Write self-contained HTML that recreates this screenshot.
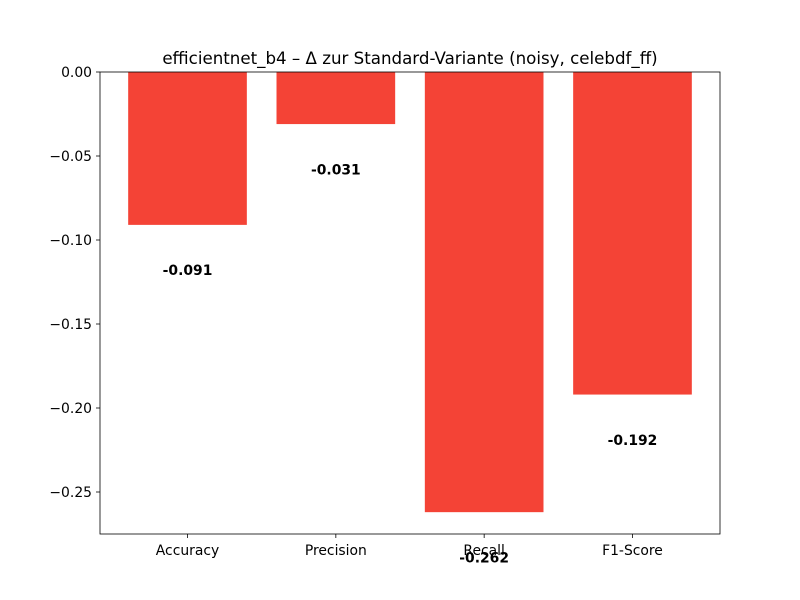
<!DOCTYPE html>
<html><head><meta charset="utf-8"><style>
body{margin:0;background:#fff;}
svg{display:block;font-family:"DejaVu Sans","Liberation Sans",sans-serif;}
</style></head><body>
<svg id="chart" width="800" height="600"></svg>
<script>
const categories = ["Accuracy","Precision","Recall","F1-Score"];
const values = [-0.091,-0.031,-0.262,-0.192];
const labels = ["-0.091","-0.031","-0.262","-0.192"];
const yTicks = [0,-0.05,-0.10,-0.15,-0.20,-0.25];
const yTickLabels = ["0.00","\u22120.05","\u22120.10","\u22120.15","\u22120.20","\u22120.25"];

const svg = document.getElementById('chart');
const NS = 'http://www.w3.org/2000/svg';
const L=100,R=720,T=72,B=534;
const yMin=-0.275,yMax=0;
const xMin=-0.59,xMax=3.59;
const y=v=>T+(yMax-v)/(yMax-yMin)*(B-T);
const x=v=>L+(v-xMin)/(xMax-xMin)*(R-L);
function mk(tag,attrs,text){const e=document.createElementNS(NS,tag);for(const k in attrs)e.setAttribute(k,attrs[k]);if(text!==undefined)e.textContent=text;svg.appendChild(e);return e;}

const title=mk('text',{x:410,y:64,'text-anchor':'middle','font-size':16.67},"efficientnet_b4 \u2013 \u0394 zur Standard-Variante (noisy, celebdf_ff)");



categories.forEach((c,i)=>{
  const x0=x(i-0.4),x1=x(i+0.4);
  const r=mk('rect',{x:x0,y:y(0),width:x1-x0,height:y(values[i])-y(0),fill:'#f44336'});
  
  
  const t=mk('text',{x:x(i),y:y(values[i]-0.027)+5,'text-anchor':'middle','font-size':13.9,'font-weight':'bold'},labels[i]);
  
  
  mk('line',{x1:x(i),x2:x(i),y1:B,y2:B+4,stroke:'#000','stroke-width':0.8});
  const xl=mk('text',{x:x(i),y:B+21,'text-anchor':'middle','font-size':13.9},c);
  
  
});

yTicks.forEach((v,i)=>{
  mk('line',{x1:L-4,x2:L,y1:y(v),y2:y(v),stroke:'#000','stroke-width':0.8});
  const t=mk('text',{x:L-8,y:y(v)+5,'text-anchor':'end','font-size':13.9},yTickLabels[i]);
  
  
});

const frame=mk('rect',{x:L,y:T,width:R-L,height:B-T,fill:'none',stroke:'#000','stroke-width':0.8});


</script>
</body></html>
